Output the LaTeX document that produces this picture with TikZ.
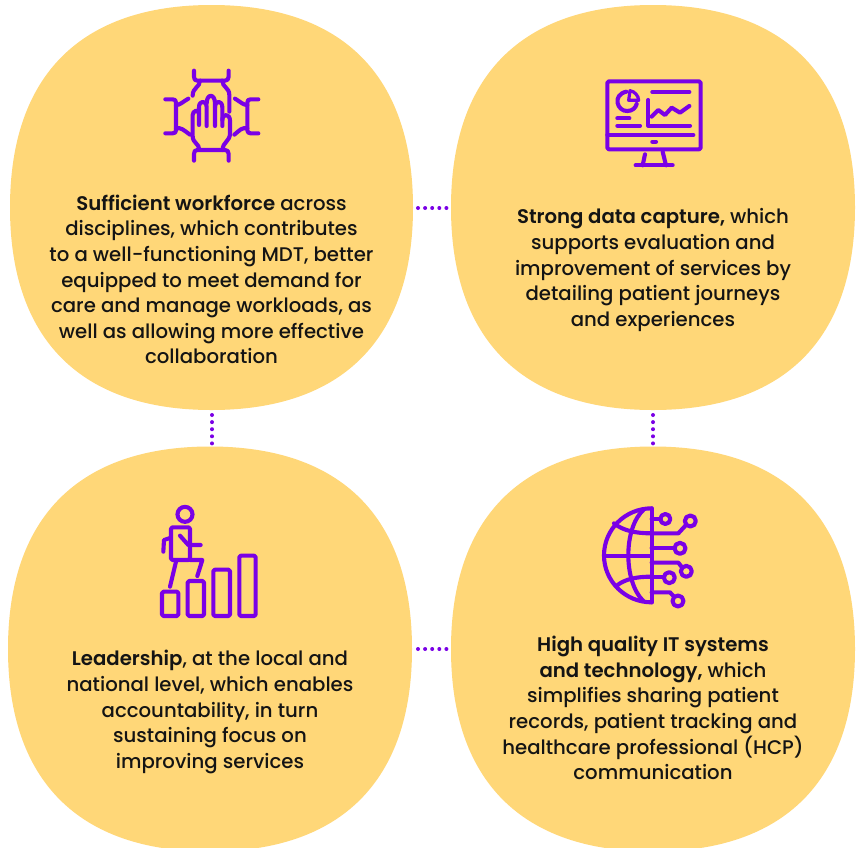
\documentclass[tikz,border=0pt]{standalone}
\usepackage{fontspec}
\setmainfont{Poppins Medium}[BoldFont={Poppins SemiBold}]
\definecolor{blobcol}{HTML}{FFD778}
\definecolor{iconcol}{HTML}{7A00E6}
\definecolor{txtcol}{HTML}{141414}
\newcommand{\blobfig}[4]{%
  \fill[blobcol] (#1-#3,#2)
   .. controls (#1-#3,#2-0.65*#4) and (#1-0.65*#3,#2-#4) .. (#1,#2-#4)
   .. controls (#1+0.65*#3,#2-#4) and (#1+#3,#2-0.65*#4) .. (#1+#3,#2)
   .. controls (#1+#3,#2+0.65*#4) and (#1+0.65*#3,#2+#4) .. (#1,#2+#4)
   .. controls (#1-0.65*#3,#2+#4) and (#1-#3,#2+0.65*#4) .. (#1-#3,#2) -- cycle;}
\tikzset{
  x=1pt,y=-1pt,
  blobanchor/.style={draw=none,fill=none,inner sep=0pt,outer sep=0pt,minimum width=403pt,minimum height=404pt},
  bodytext/.style={align=center,inner sep=0pt,text=txtcol,font=\fontsize{19.7}{25.6}\selectfont},
  dotline/.style={draw=iconcol,line width=4pt,line cap=round,dash pattern=on 0pt off 7.1pt},
  ico/.style={draw=iconcol,line width=4.1pt,line cap=round,line join=round,x=0.3333pt,y=-0.3333pt},
}
\begin{document}
\begin{tikzpicture}
\useasboundingbox (0,0) rectangle (860,847);
\fill[white] (0,0) rectangle (860,847);
\blobfig{211.5}{207.5}{201.5}{202.5}
\blobfig{653}{207.5}{202}{202.5}
\blobfig{210}{649}{202}{202.5}
\blobfig{653}{649}{202}{202.5}
\node[blobanchor] (tl) at (211.5,208) {};
\node[blobanchor] (tr) at (653,208) {};
\node[blobanchor] (bl) at (210,649) {};
\node[blobanchor] (br) at (653,649) {};
\draw[dotline,shorten <=5pt,shorten >=3pt] (tl.east) -- (tr.west);
\draw[dotline,shorten <=6.5pt,shorten >=3pt] (bl.east) -- (br.west);
\coordinate (tlb) at ([xshift=0.5pt]tl.south);
\coordinate (blt) at (tlb |- bl.north);
\draw[dotline,shorten <=5pt,shorten >=3.5pt] (tlb) -- (blt);
\draw[dotline,shorten <=5pt,shorten >=3.5pt] (tr.south) -- (br.north);
\node[bodytext] (t1) at (211.5,279.5) {\textbf{Sufficient workforce} across\\disciplines, which contributes\\to a well-functioning MDT, better\\equipped to meet demand for\\care and manage workloads, as\\well as allowing more effective\\collaboration};
\node[bodytext] (t2) at (653,270) {\textbf{Strong data capture,} which\\supports evaluation and\\improvement of services by\\detailing patient journeys\\and experiences};
\node[bodytext] (t3) at (210,712) {\textbf{Leadership}, at the local and\\national level, which enables\\accountability, in turn\\sustaining focus on\\improving services};
\node[bodytext] (t4) at (653,708) {\textbf{High quality IT systems}\\\textbf{and technology,} which\\simplifies sharing patient\\records, patient tracking and\\healthcare professional (HCP)\\communication};
% icon 1
\begin{scope}[shift={(140,50)},ico]
\draw (162,62) -- (162,80) .. controls (162,88) and (165,92) .. (172,92) -- (255,92) .. controls (262,92) and (266,88) .. (266,80) -- (266,62);
\draw (180,92) .. controls (180,112) and (158,112) .. (158,137);
\draw (247,92) .. controls (247,112) and (268,112) .. (268,135) -- (268,185);
\draw (162,332) -- (162,312) .. controls (162,304) and (165,300) .. (172,300) -- (255,300) .. controls (262,300) and (266,304) .. (266,312) -- (266,332);
\draw (178,300) .. controls (178,280) and (158,280) .. (158,258) -- (158,195) .. controls (158,182) and (177,175) .. (177,192) -- (177,225);
\draw (177,192) -- (177,172) .. controls (177,150) and (200,150) .. (200,172) -- (200,228);
\draw (200,160) .. controls (200,130) and (225,130) .. (225,160) -- (225,228);
\draw (225,172) .. controls (225,150) and (247,150) .. (247,172) -- (247,228);
\draw (247,210) .. controls (247,190) and (270,190) .. (270,212) -- (270,250) .. controls (270,275) and (248,275) .. (248,300);
\draw (76,148) -- (98,148) .. controls (105,148) and (108,151) .. (108,158) -- (108,240) .. controls (108,247) and (105,250) .. (98,250) -- (76,250);
\draw (108,165) .. controls (120,165) and (125,158) .. (145,146);
\draw (108,235) .. controls (125,232) and (130,240) .. (150,254);
\draw (355,148) -- (332,148) .. controls (325,148) and (322,151) .. (322,158) -- (322,240) .. controls (322,247) and (325,250) .. (332,250) -- (355,250);
\draw (322,165) .. controls (310,165) and (305,158) .. (285,146);
\draw (322,235) .. controls (305,232) and (300,240) .. (283,254);
\end{scope}
% icon 2
\begin{scope}[shift={(590,60)},ico]
\draw[rounded corners=1.5pt] (52,64) rectangle (332,268);
\draw (52,225) -- (310,225);
\draw (187,245) -- (198,245);
\draw (165,283) -- (158,316);
\draw (218,275) -- (228,316);
\draw (137,316) -- (248,316);
\draw (109,95) .. controls (65,105) and (82,155) .. (112,153) .. controls (128,153) and (137,143) .. (140,132);
\draw[line width=3.2pt] (120,92) -- (116,121) -- (146,121) .. controls (146,108) and (134,94) .. (120,92) -- cycle;
\draw (82,175) -- (118,175);
\draw (82,197) -- (150,197);
\draw (187,96) -- (298,96);
\draw (175,120) -- (175,197) -- (300,197);
\draw (185,170) -- (205,150) -- (225,165) -- (245,143) -- (270,158) -- (298,138);
\end{scope}
% icon 3
\begin{scope}[shift={(140,495)},ico]
\draw (135,58) circle[radius=7.5pt];
\draw[rounded corners=1.5pt] (93,97) rectangle (150,195);
\draw (93,128) -- (72,135) -- (70,170);
\draw (120,122) -- (145,150) -- (182,150);
\draw (108,200) -- (90,275);
\draw (150,195) -- (187,195) -- (172,243);
\draw[rounded corners=1.5pt] (66,290) rectangle (115,363);
\draw[rounded corners=1.5pt] (143,258) rectangle (192,363);
\draw[rounded corners=1.5pt] (220,224) rectangle (270,363);
\draw[rounded corners=1.5pt] (298,182) rectangle (347,363);
\end{scope}
% icon 4
\begin{scope}[shift={(590,495)},ico]
\draw (185,40) -- (185,322);
\draw (185,40) .. controls (106,40) and (42,103) .. (42,181) .. controls (42,259) and (106,322) .. (185,322);
\draw (42,182) -- (185,182);
\draw (160,45) .. controls (100,100) and (100,260) .. (160,318);
\draw (72,85) .. controls (100,108) and (140,115) .. (185,115);
\draw (80,272) .. controls (105,252) and (140,245) .. (185,245);
\draw (226,72) circle[radius=5pt];
\draw (185,72) -- (211,72);
\draw (301,78) circle[radius=5.5pt];
\draw (185,115) -- (265,115) -- (288,90);
\draw (270,160) circle[radius=5.5pt];
\draw (185,160) -- (254,160);
\draw (289,229) circle[radius=5.5pt];
\draw (185,203) -- (265,203) -- (276,217);
\draw (238,248) circle[radius=5.5pt];
\draw (185,245) -- (222,245);
\draw (264,318) circle[radius=5.5pt];
\draw (185,292) -- (240,292) -- (252,305);
\end{scope}
\end{tikzpicture}
\end{document}
